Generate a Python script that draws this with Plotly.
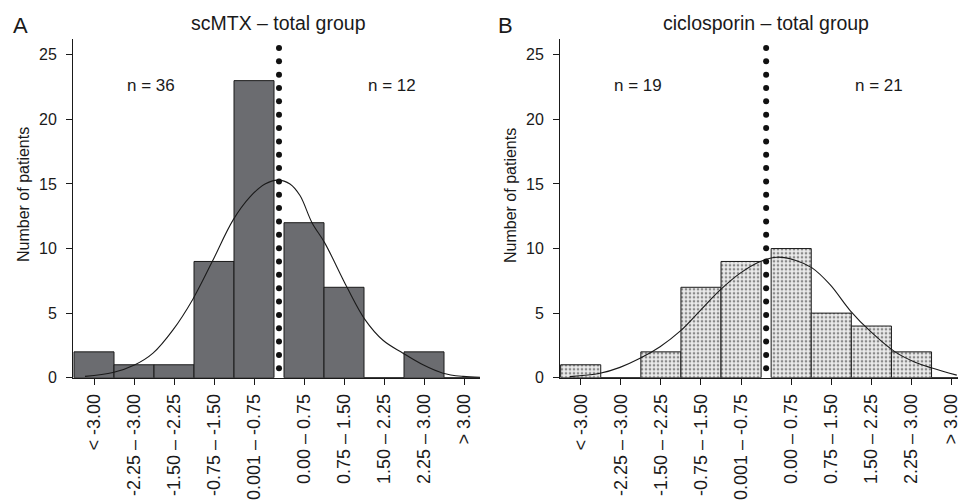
import plotly.graph_objects as go
import numpy as np

# ---------------- data ----------------
categories = ["< -3.00", "-2.25 – -3.00", "-1.50 – -2.25", "-0.75 – -1.50", "-0.001 – -0.75",
              "0.00 – 0.75", "0.75 – 1.50", "1.50 – 2.25", "2.25 – 3.00", "> 3.00"]
mtx_counts = [2, 1, 1, 9, 23, 12, 7, 0, 2, 0]
cic_counts = [1, 0, 2, 7, 9, 10, 5, 4, 2, 0]

# fitted normal curves (x in bin-position units, y = patients)
mtx_curve_x = [-0.225, 0.475, 1.025, 1.475, 1.975, 2.475, 2.95, 3.475, 3.9, 4.275, 4.6, 4.9,
               5.15, 5.45, 5.775, 6.325, 6.775, 7.225, 7.725, 8.225, 8.725, 9.225, 9.65]
mtx_curve_y = [0.1, 0.4, 1.0, 1.9, 3.7, 6.1, 8.95, 12.2, 14.0, 15.0, 15.3, 15.0,
               14.1, 12.0, 10.4, 7.0, 4.5, 2.9, 1.9, 1.0, 0.35, 0.1, 0.03]
cic_curve_x = [-0.27, 0.48, 0.98, 1.48, 1.98, 2.48, 2.98, 3.48, 3.98, 4.48, 4.9, 5.35,
               5.77, 6.22, 6.72, 7.22, 7.84, 8.34, 8.76, 9.38]
cic_curve_y = [0.08, 0.34, 0.8, 1.5, 2.4, 3.6, 5.2, 6.8, 8.1, 9.0, 9.33, 9.1,
               8.5, 7.2, 5.2, 3.6, 2.0, 1.2, 0.75, 0.2]

titles = ["scMTX – total group", "ciclosporin – total group"]
panel_letters = ["A", "B"]
n_left = ["n = 36", "n = 19"]
n_right = ["n = 12", "n = 21"]
y_title = "Number of patients"

# ---------------- layout helpers ----------------
W, H = 958, 500
FONT = "Liberation Sans, Arial, Helvetica, sans-serif"
TXT = "#1a1a1a"

def px(x):
    return x / W

def py(y):
    return 1 - y / H

# bins: first five adjacent, then a gap before the positive bins
positions = [i if i < 5 else i + 0.25 for i in range(len(categories))]
split_x = 4.625

fig = go.Figure()

# ---- panel A ----
fig.add_trace(go.Bar(x=positions, y=mtx_counts, width=1.0, xaxis="x", yaxis="y",
                     marker=dict(color="#6b6c70", line=dict(color="#1a1a1a", width=1)),
                     showlegend=False, hoverinfo="skip"))
fig.add_trace(go.Scatter(x=mtx_curve_x, y=mtx_curve_y, mode="lines", xaxis="x", yaxis="y",
                         line=dict(color="#1a1a1a", width=1.1, shape="spline", smoothing=1.0),
                         showlegend=False, hoverinfo="skip"))

# ---- panel B ----
fig.add_trace(go.Bar(x=positions, y=cic_counts, width=1.0, xaxis="x2", yaxis="y2",
                     marker=dict(color="#ebebeb", line=dict(color="#1a1a1a", width=1),
                                 pattern=dict(shape=".", fgcolor="#8a8a8a", bgcolor="#ebebeb",
                                              size=4, solidity=0.35)),
                     showlegend=False, hoverinfo="skip"))
fig.add_trace(go.Scatter(x=cic_curve_x, y=cic_curve_y, mode="lines", xaxis="x2", yaxis="y2",
                         line=dict(color="#1a1a1a", width=1.1, shape="spline", smoothing=1.0),
                         showlegend=False, hoverinfo="skip"))

# dotted split line (zero) in both panels
dot_y = np.linspace(0.73, 25.53, 25)
for xa, ya in (("x", "y"), ("x2", "y2")):
    fig.add_trace(go.Scatter(x=[split_x] * len(dot_y), y=dot_y, mode="markers",
                             xaxis=xa, yaxis=ya,
                             marker=dict(color="#111111", size=6, line=dict(width=0)),
                             showlegend=False, hoverinfo="skip"))

ydom = [py(377.7), py(39.3)]

xcommon = dict(tickmode="array", tickvals=positions, ticktext=categories, tickangle=-90,
               tickfont=dict(family=FONT, size=18, color=TXT), ticks="outside", ticklen=6,
               tickcolor="#1a1a1a", tickwidth=1, showline=True, linecolor="#1a1a1a",
               linewidth=1, showgrid=False, zeroline=False, automargin=False,
               ticklabelstandoff=2, ticklabeloverflow="allow", fixedrange=True)
ycommon = dict(range=[0, 26.2], tickmode="array", tickvals=[0, 5, 10, 15, 20, 25],
               tickfont=dict(family=FONT, size=16, color=TXT), ticks="outside", ticklen=6,
               tickcolor="#1a1a1a", tickwidth=1, showline=True, linecolor="#1a1a1a",
               linewidth=1, showgrid=False, zeroline=False, automargin=False,
               ticklabelstandoff=6, domain=ydom, fixedrange=True)

fig.update_layout(
    width=W, height=H,
    margin=dict(l=0, r=0, t=0, b=0),
    paper_bgcolor="white", plot_bgcolor="rgba(0,0,0,0)",
    template="none",
    bargap=0,
    xaxis=dict(xcommon, domain=[px(73), px(480)], range=[-0.525, 9.65], anchor="y"),
    yaxis=dict(ycommon, anchor="x"),
    xaxis2=dict(xcommon, domain=[px(560), 1.0], range=[-0.516, 9.41], anchor="y2"),
    yaxis2=dict(ycommon, anchor="x2"),
)

ann = []
# panel letters
for letter, xc in zip(panel_letters, (20, 505)):
    ann.append(dict(text=letter, x=px(xc), y=py(25), xref="paper", yref="paper",
                    xanchor="center", yanchor="middle", showarrow=False,
                    font=dict(family=FONT, size=22, color=TXT)))
# titles
for t, xc in zip(titles, (278, 766)):
    ann.append(dict(text=t, x=px(xc), y=py(23), xref="paper", yref="paper",
                    xanchor="center", yanchor="middle", showarrow=False,
                    font=dict(family=FONT, size=19.5, color=TXT)))
# n labels
for t, xc in zip(n_left + n_right, (151, 638, 392, 879)):
    ann.append(dict(text=t, x=px(xc), y=py(86), xref="paper", yref="paper",
                    xanchor="center", yanchor="middle", showarrow=False,
                    font=dict(family=FONT, size=17, color=TXT)))
# y-axis titles
for xc in (23, 510):
    ann.append(dict(text=y_title, x=px(xc), y=py(195), xref="paper", yref="paper",
                    xanchor="center", yanchor="middle", textangle=-90, showarrow=False,
                    font=dict(family=FONT, size=16, color=TXT)))
fig.update_layout(annotations=ann)

fig.write_html("out.html", config={"displayModeBar": False, "staticPlot": True},
               post_script="document.body.style.margin='0px';document.body.style.overflow='hidden';")
